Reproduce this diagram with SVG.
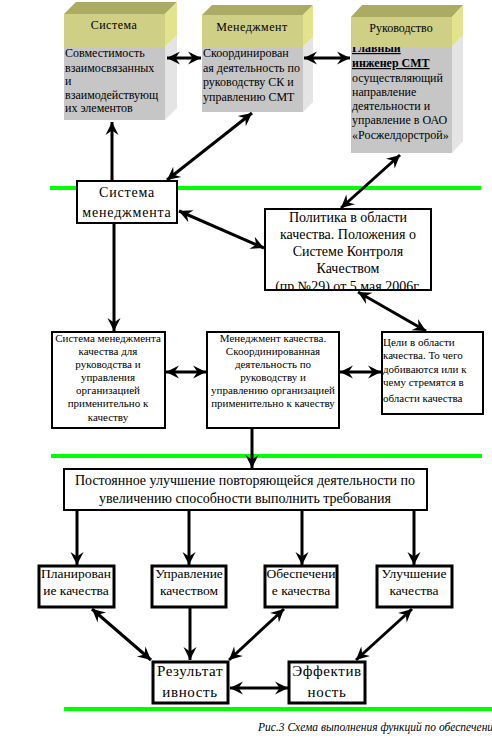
<svg xmlns="http://www.w3.org/2000/svg" width="492" height="746" viewBox="0 0 492 746" font-family="'Liberation Serif', 'Times New Roman', 'DejaVu Serif', serif">
<style>
text{fill:#000}
.box{fill:#fff;stroke:#000;stroke-width:2}
.tbox{fill:#fff;stroke:#000;stroke-width:3}
.top{fill:#abab63}
.fy{fill:#cfcf86}
.sy{fill:#e3e38e}
.fg{fill:#c6c6c6}
.sg{fill:#e4e4e4}
.hd{font-size:12px;text-anchor:middle}
.g{font-size:12px}
.s{font-size:11px;text-anchor:middle}
.sl{font-size:11px}
.m{font-size:14px;text-anchor:middle}
.b{font-size:13.5px;text-anchor:middle}
.r{font-size:15px;text-anchor:middle;letter-spacing:0.6px}
.green{stroke:#00ff00;stroke-width:4}
.a{stroke:#000;stroke-width:3;fill:none;marker-end:url(#ah)}
.d{stroke:#000;stroke-width:3;fill:none;marker-end:url(#ah);marker-start:url(#ah)}
</style>
<defs>
<marker id="ah" viewBox="-14 -7 15 14" refX="0" refY="0" markerWidth="15" markerHeight="14" markerUnits="userSpaceOnUse" orient="auto-start-reverse">
<path d="M0,0 L-13,-6.5 L-8.5,0 L-13,6.5 z" fill="#000"/>
</marker>
<clipPath id="c3"><rect x="351" y="47" width="101" height="106"/></clipPath>
<clipPath id="cp"><rect x="265" y="209" width="166" height="81"/></clipPath>
</defs>

<g id="lines">
<line class="green" x1="50" y1="188" x2="481" y2="188"/>
<line class="green" x1="51" y1="456" x2="482" y2="456"/>
<line class="green" x1="64" y1="709" x2="492" y2="709"/>
</g>

<g id="node-sistema">
<polygon class="top" points="64,14 76,2 177,2 165,14"/>
<polygon class="sy" points="165,14 177,2 177,35 165,47"/>
<polygon class="sg" points="165,47 177,35 177,108 165,120"/>
<rect class="fy" x="64" y="14" width="101" height="33"/>
<rect class="fg" x="64" y="47" width="101" height="73"/>
<text class="hd" x="114" y="29" letter-spacing="0.5">Система</text>
<text class="g" x="65" y="57">Совместимость</text>
<text class="g" x="65" y="72">взаимосвязанных</text>
<text class="g" x="65" y="85">и</text>
<text class="g" x="65" y="99">взаимодействующ</text>
<text class="g" x="65" y="112">их элементов</text>
</g>

<g id="node-menedzhment">
<polygon class="top" points="202,15 212,5 313,5 303,15"/>
<polygon class="sy" points="303,15 313,5 313,37 303,47"/>
<polygon class="sg" points="303,47 313,37 313,102 303,112"/>
<rect class="fy" x="202" y="15" width="101" height="32"/>
<rect class="fg" x="202" y="47" width="101" height="65"/>
<text class="hd" x="252" y="31" letter-spacing="0.5">Менеджмент</text>
<text class="g" x="203" y="57">Скоординирован</text>
<text class="g" x="203" y="72">ая деятельность по</text>
<text class="g" x="203" y="86">руководству СК и</text>
<text class="g" x="203" y="101">управлению СМТ</text>
</g>

<g id="node-rukovodstvo">
<polygon class="top" points="351,17 362,5 463,5 452,17"/>
<polygon class="sy" points="452,17 463,5 463,35 452,47"/>
<polygon class="sg" points="452,47 463,35 463,141 452,153"/>
<rect class="fy" x="351" y="17" width="101" height="30"/>
<rect class="fg" x="351" y="47" width="101" height="106"/>
<text class="hd" x="401" y="32">Руководство</text>
<g clip-path="url(#c3)">
<text class="g" x="352" y="52" font-weight="bold" text-decoration="underline">Главный</text>
</g>
<text class="g" x="352" y="67" font-weight="bold" text-decoration="underline">инженер СМТ</text>
<text class="g" x="352" y="82">осуществляющий</text>
<text class="g" x="352" y="96">направление</text>
<text class="g" x="352" y="110">деятельности и</text>
<text class="g" x="352" y="124">управление в ОАО</text>
<text class="g" x="352" y="139">«Росжелдорстрой»</text>
</g>

<g id="node-sistema-menedzhmenta">
<rect class="box" x="77" y="181" width="100" height="42"/>
<text class="m" x="127" y="197" font-size="15" letter-spacing="0.8">Система</text>
<text class="m" x="127" y="217" font-size="15" letter-spacing="0.8">менеджмента</text>
</g>

<g id="node-politika">
<rect x="265" y="209" width="166" height="81" fill="#fff"/>
<text class="m" x="348" y="222">Политика в области</text>
<text class="m" x="348" y="239">качества. Положения о</text>
<text class="m" x="348" y="256">Системе Контроля</text>
<text class="m" x="348" y="273">Качеством</text>
<g clip-path="url(#cp)"><text class="m" x="348" y="291">(пр.№29) от 5 мая 2006г.</text></g>
<rect x="265" y="209" width="166" height="81" fill="none" stroke="#000" stroke-width="2"/>
</g>

<g id="node-smk">
<rect class="box" x="52" y="332" width="113" height="96" stroke-width="1.5"/>
<text class="s" x="108" y="342">Система менеджмента</text>
<text class="s" x="108" y="355">качества для</text>
<text class="s" x="108" y="368">руководства и</text>
<text class="s" x="108" y="381">управления</text>
<text class="s" x="108" y="394">организацией</text>
<text class="s" x="108" y="407">применительно к</text>
<text class="s" x="108" y="421">качеству</text>
</g>

<g id="node-mk">
<rect class="box" x="207" y="332" width="132" height="96" stroke-width="1.5"/>
<text class="s" x="273" y="342">Менеджмент качества.</text>
<text class="s" x="273" y="355">Скоординированная</text>
<text class="s" x="273" y="368">деятельность по</text>
<text class="s" x="273" y="381">руководству и</text>
<text class="s" x="273" y="394">управлению организацией</text>
<text class="s" x="273" y="407">применительно к качеству</text>
</g>

<g id="node-celi">
<rect class="box" x="382" y="332" width="101" height="82" stroke-width="1.5"/>
<text class="sl" x="383" y="346">Цели в области</text>
<text class="sl" x="383" y="359">качества. То чего</text>
<text class="sl" x="383" y="373">добиваются или к</text>
<text class="sl" x="383" y="386">чему стремятся в</text>
<text class="sl" x="383" y="402">области качества</text>
</g>

<g id="node-postoyannoe">
<rect class="box" x="64" y="469" width="363" height="41" stroke-width="1.5"/>
<text class="m" x="245" y="485" font-size="14.5">Постоянное улучшение повторяющейся деятельности по</text>
<text class="m" x="245" y="503" font-size="14.5">увеличению способности выполнить требования</text>
</g>

<g id="node-planirovanie">
<rect class="tbox" x="39" y="566" width="75" height="41"/>
<text class="b" x="76" y="578">Планирован</text>
<text class="b" x="76" y="595">ие качества</text>
</g>
<g id="node-upravlenie">
<rect class="tbox" x="152" y="566" width="74" height="41"/>
<text class="b" x="189" y="578">Управление</text>
<text class="b" x="189" y="595">качеством</text>
</g>
<g id="node-obespechenie">
<rect class="tbox" x="265" y="566" width="72" height="41"/>
<text class="b" x="301" y="578">Обеспечени</text>
<text class="b" x="301" y="595">е качества</text>
</g>
<g id="node-uluchshenie">
<rect class="tbox" x="377" y="566" width="75" height="41"/>
<text class="b" x="414" y="578">Улучшение</text>
<text class="b" x="414" y="595">качества</text>
</g>

<g id="node-rezultativnost">
<rect class="tbox" x="153" y="662" width="75" height="41"/>
<text class="r" x="190" y="676">Результат</text>
<text class="r" x="190" y="697">ивность</text>
</g>
<g id="node-effektivnost">
<rect class="tbox" x="289" y="662" width="76" height="41"/>
<text class="r" x="327" y="676">Эффектив</text>
<text class="r" x="327" y="697">ность</text>
</g>

<g id="connectors">
<line class="d" x1="167" y1="58" x2="201" y2="58"/>
<line class="d" x1="304" y1="58" x2="350" y2="58"/>
<line class="a" x1="112" y1="180" x2="112" y2="122"/>
<line class="d" x1="167" y1="180" x2="252" y2="113"/>
<line class="d" x1="400" y1="155" x2="341" y2="208"/>
<line class="d" x1="179" y1="211" x2="264" y2="248"/>
<line class="a" x1="114" y1="224" x2="114" y2="331"/>
<line class="d" x1="358" y1="292" x2="426" y2="331"/>
<line class="d" x1="166" y1="372" x2="206" y2="372"/>
<line class="d" x1="340" y1="372" x2="381" y2="372"/>
<line class="a" x1="252" y1="429" x2="252" y2="468"/>
<line class="a" x1="77" y1="511" x2="77" y2="565" stroke-width="4"/>
<line class="a" x1="189" y1="511" x2="189" y2="565" stroke-width="4"/>
<line class="a" x1="302" y1="511" x2="302" y2="565" stroke-width="4"/>
<line class="a" x1="414" y1="511" x2="414" y2="565" stroke-width="4"/>
<line class="d" x1="92" y1="609" x2="151" y2="660"/>
<line class="a" x1="190" y1="608" x2="190" y2="660"/>
<line class="d" x1="284" y1="609" x2="229" y2="660"/>
<line class="d" x1="412" y1="609" x2="356" y2="660"/>
<line class="d" x1="230" y1="688" x2="288" y2="688"/>
</g>

<text x="258" y="731" font-size="11.5" font-style="italic">Рис.3 Схема выполнения функций по обеспечени</text>
</svg>
